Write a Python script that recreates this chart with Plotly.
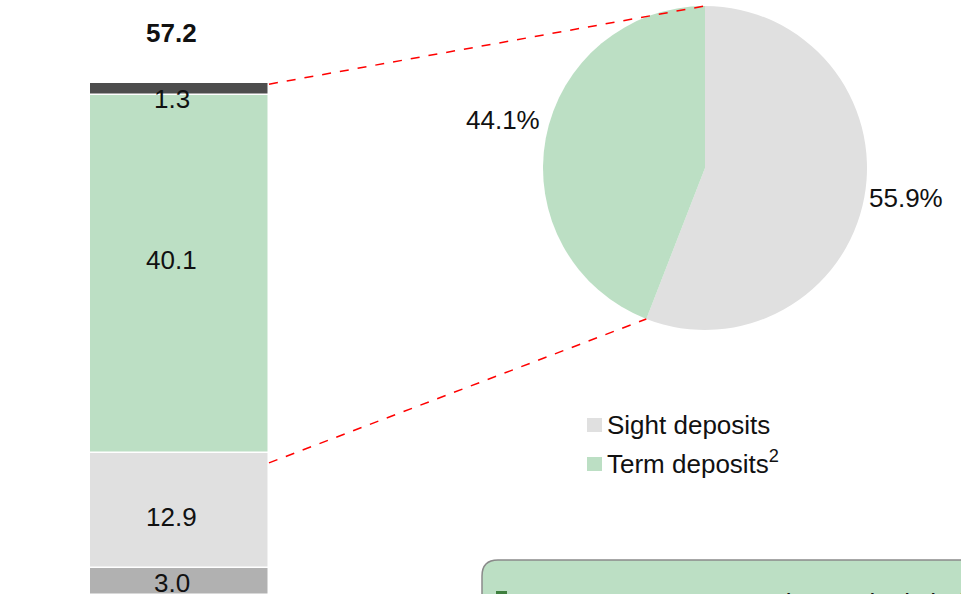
import plotly.graph_objects as go
import math

# ---- data ----
bar_category = ["Deposits"]
segment_names = ["Other", "Sight", "Term", "Savings"]
segment_values = [3.0, 12.9, 40.1, 1.3]
segment_colors = ["#b1b1b1", "#e0e0e0", "#bcdfc4", "#4d4d4d"]
bar_total = 57.2

pie_labels = ["Sight deposits", "Term deposits<sup>2</sup>"]
pie_values = [55.9, 44.1]
pie_colors = ["#e0e0e0", "#bcdfc4"]

box_text = "Excess reserves are increasingly held as term deposits"

FONT = "Arial, Liberation Sans, sans-serif"
FS = 26
W, H = 961, 594

# axis geometry
px_per_unit_y = 8.93
zero_px = 595.0
y0 = (zero_px - H) / px_per_unit_y
y1 = y0 + H / px_per_unit_y
px_per_unit_x = 179.0
x0 = -0.5 - 90.0 / px_per_unit_x
x1 = x0 + W / px_per_unit_x

def px_to_x(p):
    return x0 + p / px_per_unit_x

def py_to_y(p):
    return y1 - p / px_per_unit_y

fig = go.Figure()

base = 0.0
for name, v, c in zip(segment_names, segment_values, segment_colors):
    fig.add_trace(go.Bar(
        x=[0], y=[v], base=[base], width=1.0, name=name,
        marker=dict(color=c, line=dict(color="white", width=1.5)),
        showlegend=False, hoverinfo="skip",
    ))
    base += v

# segment labels
label_yshift = [-1, -6, 14, -10]
base = 0.0
for v, ys in zip(segment_values, label_yshift):
    fig.add_annotation(x=0, y=base + v / 2, xref="x", yref="y", text=f"{v:.1f}",
                       showarrow=False, xshift=-8, yshift=ys, yanchor="middle",
                       font=dict(family=FONT, size=FS, color="#111"))
    base += v
fig.add_annotation(x=0, y=py_to_y(33), xref="x", yref="y", text=f"<b>{bar_total:.1f}</b>",
                   showarrow=False, xshift=-8, yanchor="middle",
                   font=dict(family=FONT, size=FS, color="#111"))

# pie
pcx, pcy, pr = 705, 168, 162
fig.add_trace(go.Pie(
    labels=pie_labels, values=pie_values, sort=False, direction="clockwise", rotation=0,
    marker=dict(colors=pie_colors, line=dict(width=0)),
    textinfo="none", hoverinfo="skip",
    domain=dict(x=[(pcx - pr) / W, (pcx + pr) / W], y=[1 - (pcy + pr) / H, 1 - (pcy - pr) / H]),
    showlegend=False,
))

# pie percentage labels
fig.add_annotation(x=(pcx + pr) / W, y=1 - 198 / H, xref="paper", yref="paper",
                   text=f"{pie_values[0]:.1f}%", showarrow=False, xanchor="left", yanchor="middle",
                   font=dict(family=FONT, size=FS, color="#111"))
fig.add_annotation(x=542 / W, y=1 - 120 / H, xref="paper", yref="paper",
                   text=f"{pie_values[1]:.1f}%", showarrow=False, xanchor="right", yanchor="middle",
                   font=dict(family=FONT, size=FS, color="#111"))

# legend (drawn manually)
leg_rows_y = [425, 463]
leg_sq_top = [418, 457]
for lab, col, ty, sq in zip(pie_labels, pie_colors, leg_rows_y, leg_sq_top):
    fig.add_shape(type="rect", xref="paper", yref="paper",
                  x0=587 / W, x1=602 / W, y0=1 - (sq + 14) / H, y1=1 - sq / H,
                  fillcolor=col, line=dict(width=0))
    fig.add_annotation(x=605 / W, y=1 - ty / H, xref="paper", yref="paper", text=lab,
                       showarrow=False, xanchor="left", yanchor="middle",
                       font=dict(family=FONT, size=FS, color="#111"))

# connector lines (bar edges -> pie edges)
frac = pie_values[0] / 100.0
ang = 2 * math.pi * frac
bx, by = pcx + pr * math.sin(ang), pcy - pr * math.cos(ang)
fig.add_shape(type="line", xref="x", yref="y",
              x0=0.5, y0=bar_total, x1=px_to_x(pcx), y1=py_to_y(pcy - pr),
              line=dict(color="#ff0000", width=1.5, dash="dash"))
fig.add_shape(type="line", xref="x", yref="y",
              x0=0.5, y0=segment_values[0] + segment_values[1] - 1.1, x1=px_to_x(bx), y1=py_to_y(by),
              line=dict(color="#ff0000", width=1.5, dash="dash"))

# bottom-right rounded box
bl, bt, br, bb, rr = 482, 560, 990, 640, 16
def P(x, y):
    return f"{x / W},{1 - y / H}"
path = (f"M {P(bl + rr, bt)} L {P(br, bt)} L {P(br, bb)} L {P(bl, bb)} L {P(bl, bt + rr)} "
        f"Q {P(bl, bt)} {P(bl + rr, bt)} Z")
fig.add_shape(type="path", xref="paper", yref="paper", path=path,
              fillcolor="#bcdfc4", line=dict(color="#8a8a8a", width=1.5), layer="above")
fig.add_shape(type="rect", xref="paper", yref="paper",
              x0=496 / W, x1=507 / W, y0=1 - 602 / H, y1=1 - 591 / H,
              fillcolor="#3f7f3f", line=dict(width=0), layer="above")
fig.add_annotation(x=541 / W, y=1 - 586 / H, xref="paper", yref="paper", text=box_text,
                   showarrow=False, xanchor="left", yanchor="top",
                   font=dict(family=FONT, size=FS, color="#111"))

fig.update_layout(
    width=W, height=H, margin=dict(l=0, r=0, t=0, b=0),
    paper_bgcolor="white", plot_bgcolor="white",
    barmode="overlay", bargap=0, showlegend=False,
    xaxis=dict(range=[x0, x1], visible=False, fixedrange=True),
    yaxis=dict(range=[y0, y1], visible=False, fixedrange=True),
    font=dict(family=FONT),
)

fig.write_html("out.html", config={"displayModeBar": False},
               post_script="document.body.style.margin='0';document.body.style.overflow='hidden';")
